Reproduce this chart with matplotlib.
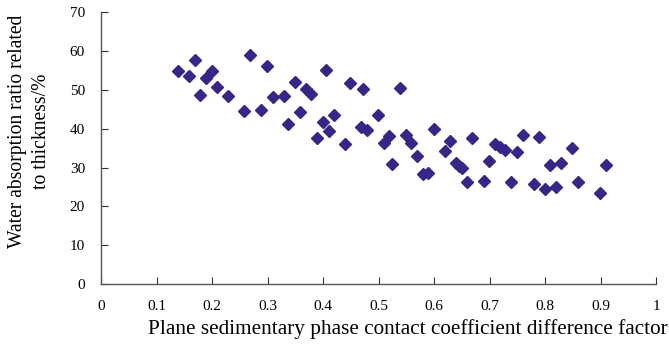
import matplotlib
matplotlib.use('Agg')
import matplotlib.pyplot as plt

# diamond points
xs = [0.139, 0.159, 0.169, 0.179, 0.189, 0.199, 0.209, 0.229, 0.258, 0.268,
      0.289, 0.299, 0.309, 0.329, 0.337, 0.349, 0.359, 0.369, 0.379, 0.389,
      0.399, 0.405, 0.410, 0.419, 0.439, 0.449, 0.472, 0.469, 0.479, 0.499,
      0.509, 0.519, 0.524, 0.539, 0.549, 0.559, 0.569, 0.579, 0.589, 0.599,
      0.619, 0.629, 0.639, 0.645, 0.650, 0.659, 0.669, 0.689, 0.699, 0.709,
      0.719, 0.728, 0.739, 0.749, 0.760, 0.780, 0.789, 0.799, 0.809, 0.819,
      0.829, 0.849, 0.859, 0.899, 0.909]
ys = [55.0, 53.6, 57.8, 48.6, 53.2, 54.9, 50.7, 48.4, 44.7, 58.9,
      44.9, 56.2, 48.2, 48.5, 41.2, 52.1, 44.3, 50.2, 49.0, 37.5,
      41.8, 55.1, 39.5, 43.6, 36.0, 51.7, 50.2, 40.5, 39.7, 43.6,
      36.4, 38.1, 30.9, 50.5, 38.3, 36.3, 33.1, 28.4, 28.6, 39.9,
      34.4, 36.8, 31.3, 30.5, 30.0, 26.4, 37.6, 26.5, 31.8, 36.0,
      35.3, 34.6, 26.3, 33.9, 38.3, 25.7, 38.0, 24.6, 30.6, 25.0,
      31.1, 35.0, 26.2, 23.5, 30.6]

xticks = [0, 0.1, 0.2, 0.3, 0.4, 0.5, 0.6, 0.7, 0.8, 0.9, 1]
xticklabels = ['0', '0.1', '0.2', '0.3', '0.4', '0.5', '0.6', '0.7', '0.8', '0.9', '1']
yticks = [0, 10, 20, 30, 40, 50, 60, 70]

plt.rcParams['font.family'] = ['Liberation Serif', 'DejaVu Serif']

fig = plt.figure(figsize=(6.69, 3.45), dpi=100)
ax = fig.add_axes([0.151, 0.177, 0.830, 0.787])

ax.plot(xs, ys, linestyle='none', marker='D', markersize=6.3,
        color='#35268A', markeredgecolor='#35268A')

ax.set_xlim(0, 1)
ax.set_ylim(0, 70)
ax.set_xticks(xticks)
ax.set_xticklabels(xticklabels)
ax.set_yticks(yticks)

for s in ['top', 'right']:
    ax.spines[s].set_visible(False)
for s in ['left', 'bottom']:
    ax.spines[s].set_color('#555555')
    ax.spines[s].set_linewidth(1.0)
ax.tick_params(direction='in', length=5, width=0.8, color='#333333',
               labelsize=11, pad=11.5)

ax.set_xlabel('Plane sedimentary phase contact coefficient difference factor',
              fontsize=15.3)
ax.xaxis.set_label_coords(0.552, -0.13)
ax.set_ylabel('Water absorption ratio related\nto thickness/%', fontsize=14.1,
              linespacing=1.35)
ax.yaxis.set_label_coords(-0.09, 0.563)

fig.savefig('out.png', dpi=100)
